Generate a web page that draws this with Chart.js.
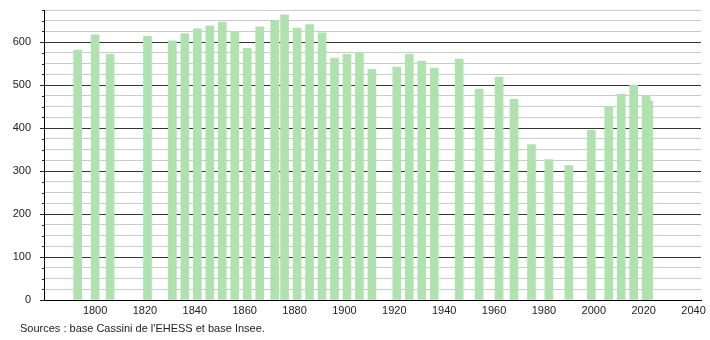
<!DOCTYPE html>
<html>
<head>
<meta charset="utf-8">
<script src="https://cdn.jsdelivr.net/npm/chart.js@4"></script>
<style>
  body { margin: 0; background: #fff; }
  #wrap { position: relative; width: 710px; height: 340px; }
  #src { position: absolute; left: 20px; top: 322px; font: 11px "Liberation Sans", Arial, sans-serif; color: #222; }
</style>
</head>
<body>
<div id="wrap">
  <canvas id="popChart" width="710" height="340"></canvas>
  <div id="src">Sources : base Cassini de l'EHESS et base Insee.</div>
</div>
<script>
let years = [1793, 1800, 1806, 1821, 1831, 1836, 1841, 1846, 1851, 1856, 1861, 1866, 1872, 1876, 1881, 1886, 1891, 1896, 1901, 1906, 1911, 1921, 1926, 1931, 1936, 1946, 1954, 1962, 1968, 1975, 1982, 1990, 1999, 2006, 2011, 2016, 2021, 2022];
let population = [582, 617, 572, 614, 603, 620, 631, 638, 647, 625, 586, 636, 651, 664, 633, 641, 622, 563, 572, 576, 537, 542, 572, 556, 540, 561, 491, 519, 467, 362, 327, 313, 395, 450, 479, 500, 476, 463];
let xTicks = [1800, 1820, 1840, 1860, 1880, 1900, 1920, 1940, 1960, 1980, 2000, 2020, 2040];
let yTicks = [0, 100, 200, 300, 400, 500, 600];

let points = years.map((y, i) => ({x: y, y: population[i]}));

// short dark ticks for the 25-step minor lines
let minorTicks = {
    id: "minorTicks",
    afterDraw(chart) {
        let s = chart.scales.y;
        let ctx = chart.ctx;
        ctx.save();
        ctx.strokeStyle = "#222";
        ctx.lineWidth = 1;
        for (let v = 25; v <= 675; v += 25) {
            if (v % 100 === 0) continue;
            let py = Math.round(s.getPixelForValue(v)) + 0.5;
            ctx.beginPath();
            ctx.moveTo(s.right - 2, py);
            ctx.lineTo(s.right, py);
            ctx.stroke();
        }
        ctx.restore();
    }
};

Chart.defaults.font.family = "'Liberation Sans', Arial, sans-serif";
Chart.defaults.font.size = 11;
Chart.defaults.color = "#222";

new Chart("popChart", {
    type: "bar",
    data: {
        datasets: [{
            data: points,
            backgroundColor: "rgb(176, 226, 176)",
            barThickness: 8,
            grouped: false
        }]
    },
    options: {
        responsive: false,
        animation: false,
        layout: {padding: {top: 10, right: 9, left: 0, bottom: 0}},
        plugins: {legend: {display: false}, tooltip: {enabled: false}},
        scales: {
            x: {
                type: "linear",
                offset: false,
                min: 1779.5,
                max: 2043,
                afterBuildTicks: (s) => { s.ticks = xTicks.map(v => ({value: v})); },
                ticks: {
                    autoSkip: false,
                    maxRotation: 0,
                    padding: 4,
                    callback: (v) => String(v)
                },
                grid: {display: false, drawTicks: false},
                border: {display: true, color: "#000", width: 1},
                afterFit: (s) => { s.height = 40; s.paddingLeft = 0; s.paddingRight = 0; }
            },
            y: {
                min: 0,
                max: 675,
                ticks: {
                    stepSize: 25,
                    autoSkip: false,
                    padding: 9,
                    callback: (v) => yTicks.includes(v) ? String(v) : ""
                },
                grid: {
                    color: (c) => c.tick && c.tick.value % 100 === 0 ? "#333" : "#cacaca",
                    tickColor: (c) => c.tick && c.tick.value % 100 === 0 ? "#222" : "transparent",
                    tickLength: 4
                },
                border: {display: true, color: "#000", width: 1},
                afterFit: (s) => { s.width = 44; s.paddingTop = 0; s.paddingBottom = 0; }
            }
        }
    },
    plugins: [minorTicks]
});
</script>
</body>
</html>
